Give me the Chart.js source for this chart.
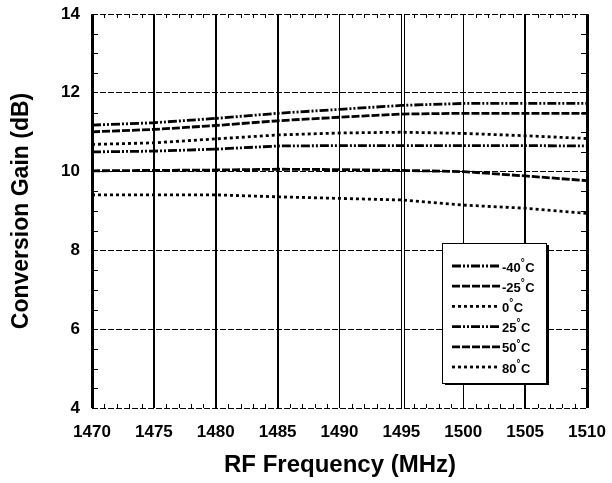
<!DOCTYPE html>
<html><head><meta charset="utf-8">
<script src="https://cdn.jsdelivr.net/npm/chart.js@4/dist/chart.umd.min.js"></script>
<style>html,body{margin:0;padding:0;background:#fff}canvas{display:block}</style>
</head><body>
<canvas id="c" width="612" height="483"></canvas>
<script>
const freq = [1470,1475,1480,1485,1490,1495,1500,1505,1510];
const gainM40 = [11.18,11.24,11.35,11.48,11.58,11.68,11.73,11.73,11.73];
const gainM25 = [11.01,11.07,11.17,11.29,11.38,11.46,11.48,11.48,11.48];
const gain0   = [10.69,10.73,10.83,10.93,10.98,11.00,10.97,10.91,10.84];
const gain25  = [10.50,10.52,10.57,10.65,10.66,10.66,10.66,10.66,10.65];
const gain50  = [10.02,10.03,10.04,10.06,10.05,10.03,10.00,9.89,9.77];
const gain80  = [9.41,9.41,9.41,9.36,9.32,9.28,9.15,9.07,8.94];
const seriesLabels = ['-40°C','-25°C','0°C','25°C','50°C','80°C'];
const xTitle = 'RF Frequency (MHz)';
const yTitle = 'Conversion Gain (dB)';

const FONT = '"Liberation Sans", Arial, sans-serif';
const dashA = [9,2,2,2,2,2];
const dashB = [8,2];
const dashC = [3,3];
const styles = [dashA, dashB, dashC, dashA, dashB, dashC];
const allSeries = [gainM40, gainM25, gain0, gain25, gain50, gain80];

const datasets = allSeries.map((arr, i) => ({
  label: seriesLabels[i],
  data: arr.map((v, j) => ({x: freq[j], y: v})),
  borderColor: '#000',
  borderWidth: 2.8,
  borderDash: styles[i],
  pointRadius: 0,
  fill: false,
  tension: 0
}));

const vWidths = {1470:3,1475:2,1480:2,1485:2,1490:1,1495:1,1500:1,1505:2,1510:3};

const decor = {
  id: 'decor',
  beforeDatasetsDraw(chart) {
    const {ctx, chartArea: a, scales: {x, y}} = chart;
    ctx.save();
    ctx.strokeStyle = '#000';
    ctx.lineWidth = 1;
    ctx.setLineDash([]);
    const px = Math.round(x.getPixelForValue(1495)) + 3.5;
    ctx.beginPath(); ctx.moveTo(px, a.top); ctx.lineTo(px, a.bottom); ctx.stroke();
    for (let f = 1471; f < 1510; f++) {
      if (f % 5 === 0) continue;
      const p = Math.round(x.getPixelForValue(f)) + 0.5;
      ctx.beginPath(); ctx.moveTo(p, a.bottom); ctx.lineTo(p, a.bottom - 4); ctx.stroke();
      ctx.beginPath(); ctx.moveTo(p, a.top); ctx.lineTo(p, a.top + 4); ctx.stroke();
    }
    for (let v = 4.5; v < 14; v += 0.5) {
      if (v % 2 === 0) continue;
      const p = Math.round(y.getPixelForValue(v)) + 0.5;
      ctx.beginPath(); ctx.moveTo(a.left, p); ctx.lineTo(a.left + 6, p); ctx.stroke();
      ctx.beginPath(); ctx.moveTo(a.right, p); ctx.lineTo(a.right - 6, p); ctx.stroke();
    }
    ctx.restore();
  },
  afterDraw(chart) {
    const {ctx, chartArea: a} = chart;
    ctx.save();
    ctx.fillStyle = '#000';
    ctx.textAlign = 'center';
    ctx.textBaseline = 'middle';
    ctx.font = 'bold 24px ' + FONT;
    ctx.fillText(xTitle, 340, 465);
    ctx.save();
    ctx.font = 'bold 23px ' + FONT;
    ctx.translate(22, 211);
    ctx.rotate(-Math.PI / 2);
    ctx.fillText(yTitle, 0, 0);
    ctx.restore();
    const bx = 442, by = 243, bw = 104, bh = 140;
    ctx.fillStyle = '#000';
    ctx.fillRect(bx + 3, by + 2, bw, bh);
    ctx.fillStyle = '#fff';
    ctx.fillRect(bx, by, bw, bh);
    ctx.strokeStyle = '#000';
    ctx.lineWidth = 1;
    ctx.strokeRect(bx + 0.5, by + 0.5, bw, bh);
    chart.data.datasets.forEach((ds, i) => {
      const ry = 266 + i * 20.2;
      ctx.save();
      ctx.strokeStyle = '#000';
      ctx.lineWidth = 2.8;
      ctx.setLineDash(ds.borderDash);
      ctx.beginPath(); ctx.moveTo(452, ry); ctx.lineTo(500, ry); ctx.stroke();
      ctx.restore();
      const parts = ds.label.split('°');
      ctx.fillStyle = '#000';
      ctx.textAlign = 'left';
      ctx.textBaseline = 'middle';
      ctx.font = 'bold 13px ' + FONT;
      let tx = 502;
      ctx.fillText(parts[0], tx, ry + 2);
      tx += ctx.measureText(parts[0]).width;
      ctx.font = 'bold 10px ' + FONT;
      ctx.fillText('°', tx, ry - 3);
      tx += ctx.measureText('°').width + 0.5;
      ctx.font = 'bold 13px ' + FONT;
      ctx.fillText(parts[1], tx, ry + 2);
    });
    ctx.restore();
  }
};

new Chart(document.getElementById('c'), {
  type: 'line',
  data: { datasets },
  options: {
    responsive: false,
    animation: false,
    layout: { padding: { left: 0, right: 25, top: 14, bottom: 0 } },
    plugins: { legend: { display: false }, tooltip: { enabled: false } },
    scales: {
      x: {
        type: 'linear', min: 1470, max: 1510,
        afterFit: s => { s.height = 75; s.paddingLeft = 0; s.paddingRight = 0; },
        ticks: { stepSize: 5, color: '#000', padding: 14, maxRotation: 0,
                 callback: v => String(v),
                 font: { family: FONT, weight: 'bold', size: 17 } },
        grid: { color: '#000', drawTicks: false,
                lineWidth: c => vWidths[c.tick ? c.tick.value : 0] || 1 },
        border: { display: false }
      },
      y: {
        min: 4, max: 14,
        afterFit: s => { s.width = 92; s.paddingTop = 0; s.paddingBottom = 0; },
        ticks: { stepSize: 2, color: '#000', padding: 12,
                 callback: v => String(v),
                 font: { family: FONT, weight: 'bold', size: 17 } },
        grid: { color: '#000', drawTicks: false, lineWidth: 1 },
        border: { display: false, dash: [6, 2] }
      }
    }
  },
  plugins: [decor]
});
</script>
</body></html>
